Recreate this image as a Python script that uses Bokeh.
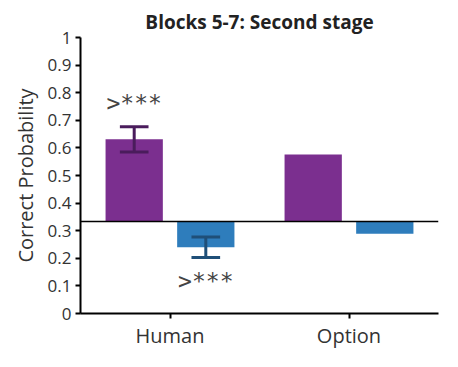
from bokeh.plotting import figure
from bokeh.models import FixedTicker, Span, Range1d
from bokeh.core.properties import value
from bokeh.embed import file_html
from bokeh.resources import INLINE

# ---- data ----
categories = ["Human", "Option"]
cat_pos = [0.5, 1.5]
purple_vals = [0.631, 0.576]
blue_vals = [0.240, 0.289]
purple_err = [0.046, 0.0]
blue_err = [0.037, 0.0]
chance = 1.0 / 3.0
purple_sig = [">***", ""]
blue_sig = [">***", ""]
y_ticks = [0, 0.1, 0.2, 0.3, 0.4, 0.5, 0.6, 0.7, 0.8, 0.9, 1]
title_text = "Blocks 5-7: Second stage"
y_label = "Correct Probability"

# ---- styles ----
PURPLE = "#7b2f8f"
PURPLE_DARK = "#4a1c5c"
BLUE = "#2e7dbc"
BLUE_DARK = "#1f4f78"
FONT = "Open Sans"
offset = 0.2
bar_w = 0.32
cap = 0.08

p = figure(width=442, height=351, output_backend="svg", toolbar_location=None,
           x_range=Range1d(0, 2), y_range=Range1d(0, 1),
           min_border_left=80, min_border_right=4, min_border_top=37,
           min_border_bottom=30)
p.outline_line_color = None
p.xgrid.visible = False
p.ygrid.visible = False
p.background_fill_color = "white"
p.border_fill_color = "white"

p.title.text = title_text
p.title.align = "center"
p.title.text_font = FONT
p.title.text_font_style = "bold"
p.title.text_font_size = "19px"
p.title.text_color = "#222222"
p.title.standoff = 5

xp = [c - offset for c in cat_pos]
xb = [c + offset for c in cat_pos]

p.vbar(x=xp, top=purple_vals, bottom=chance, width=bar_w,
       fill_color=PURPLE, line_color=None)
p.vbar(x=xb, top=blue_vals, bottom=chance, width=bar_w,
       fill_color=BLUE, line_color=None)

p.add_layout(Span(location=chance, dimension="width", line_color="black",
                  line_width=1.5))


def errbars(xs, vals, errs, color):
    xs2 = [x for x, e in zip(xs, errs) if e > 0]
    lo = [v - e for v, e in zip(vals, errs) if e > 0]
    hi = [v + e for v, e in zip(vals, errs) if e > 0]
    p.segment(x0=xs2, y0=lo, x1=xs2, y1=hi, line_color=color, line_width=3)
    p.segment(x0=[x - cap for x in xs2], y0=lo, x1=[x + cap for x in xs2], y1=lo,
              line_color=color, line_width=3)
    p.segment(x0=[x - cap for x in xs2], y0=hi, x1=[x + cap for x in xs2], y1=hi,
              line_color=color, line_width=3)


errbars(xp, purple_vals, purple_err, PURPLE_DARK)
errbars(xb, blue_vals, blue_err, BLUE_DARK)

# significance markers
sp_x = [x for x, s in zip(xp, purple_sig) if s]
sp_y = [v + e + 0.085 for v, e, s in zip(purple_vals, purple_err, purple_sig) if s]
sp_t = [s for s in purple_sig if s]
sb_x = [x for x, s in zip(xb, blue_sig) if s]
sb_y = [v - e - 0.085 for v, e, s in zip(blue_vals, blue_err, blue_sig) if s]
sb_t = [s for s in blue_sig if s]
for xs, ys, ts in ((sp_x, sp_y, sp_t), (sb_x, sb_y, sb_t)):
    p.text(x=xs, y=ys, text=ts, text_align="center", text_baseline="middle",
           text_font=value("DejaVu Sans Mono"), text_font_size="23px",
           text_color="#444444")

# axes
for ax in (p.xaxis[0], p.yaxis[0]):
    ax.axis_line_color = "black"
    ax.axis_line_width = 2
    ax.major_tick_line_color = "black"
    ax.major_tick_line_width = 2
    ax.major_tick_out = 5
    ax.major_tick_in = 0
    ax.minor_tick_line_color = None
    ax.major_label_text_font = FONT
    ax.major_label_text_color = "#333333"

p.yaxis.ticker = FixedTicker(ticks=y_ticks)
p.yaxis.major_label_overrides = {t: ("%g" % t) for t in y_ticks}
p.yaxis.major_label_text_font_size = "17px"
p.yaxis.major_label_standoff = 4
p.yaxis.axis_label = y_label
p.yaxis.axis_label_text_font = FONT
p.yaxis.axis_label_text_font_style = "normal"
p.yaxis.axis_label_text_font_size = "20px"
p.yaxis.axis_label_text_color = "#333333"
p.yaxis.axis_label_standoff = 6

p.xaxis.ticker = FixedTicker(ticks=cat_pos)
p.xaxis.major_label_overrides = {c: n for c, n in zip(cat_pos, categories)}
p.xaxis.major_label_text_font_size = "20px"
p.xaxis.major_label_standoff = 3

open("out.html", "w").write(file_html(p, INLINE))
